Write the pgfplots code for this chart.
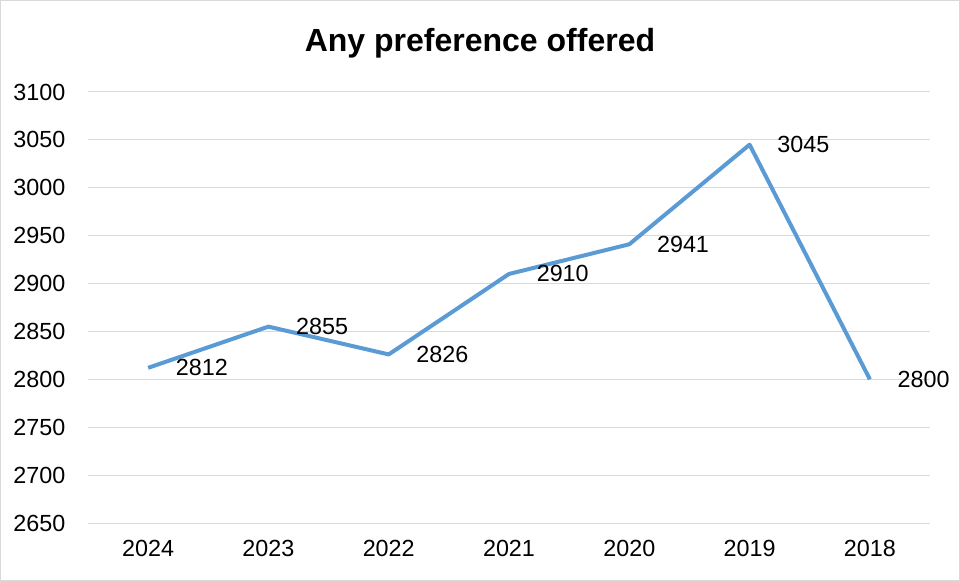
\documentclass[border=0pt]{standalone}
\usepackage{pgfplots}
\pgfplotsset{compat=1.18}
\usepackage{fontspec}
\setmainfont{Liberation Sans}
\definecolor{lineblue}{HTML}{5B9BD5}
\definecolor{gridgray}{HTML}{D9D9D9}
\begin{document}
\begin{tikzpicture}[x=1pt,y=1pt]
\draw[draw=gridgray, line width=0.75pt] (0.4,0.4) rectangle (719.6,435.35);
\node[font=\bfseries\fontsize{24}{28}\selectfont] at (360,403.5) {Any preference offered};
\begin{axis}[
  at={(66pt,43.5pt)}, anchor=south west,
  scale only axis, width=631.5pt, height=323.25pt,
  xmin=-0.5, xmax=6.5, ymin=2650, ymax=3100,
  xtick={0,...,6},
  xticklabels={2024,2023,2022,2021,2020,2019,2018},
  ytick={2650,2700,...,3100},
  ymajorgrids, grid style={gridgray, line width=0.75pt},
  axis line style={draw=none},
  major tick length=0pt,
  tick label style={font=\fontsize{17.5}{20}\selectfont},
  /pgf/number format/assume math mode=true,
  /pgf/number format/1000 sep={},
  yticklabel style={xshift=-13.5pt},
  xticklabel style={yshift=-9pt},
  clip=false,
]
\addplot[lineblue, line width=3pt, line join=round,
  nodes near coords, point meta=explicit symbolic,
  every node near coord/.append style={anchor=west, xshift=16pt, yshift=0pt, text=black, font=\fontsize{17.5}{20}\selectfont}]
  table[meta=lab] {
x y lab
0 2812 2812
1 2855 2855
2 2826 2826
3 2910 2910
4 2941 2941
5 3045 3045
6 2800 2800
};
\end{axis}
\end{tikzpicture}
\end{document}
